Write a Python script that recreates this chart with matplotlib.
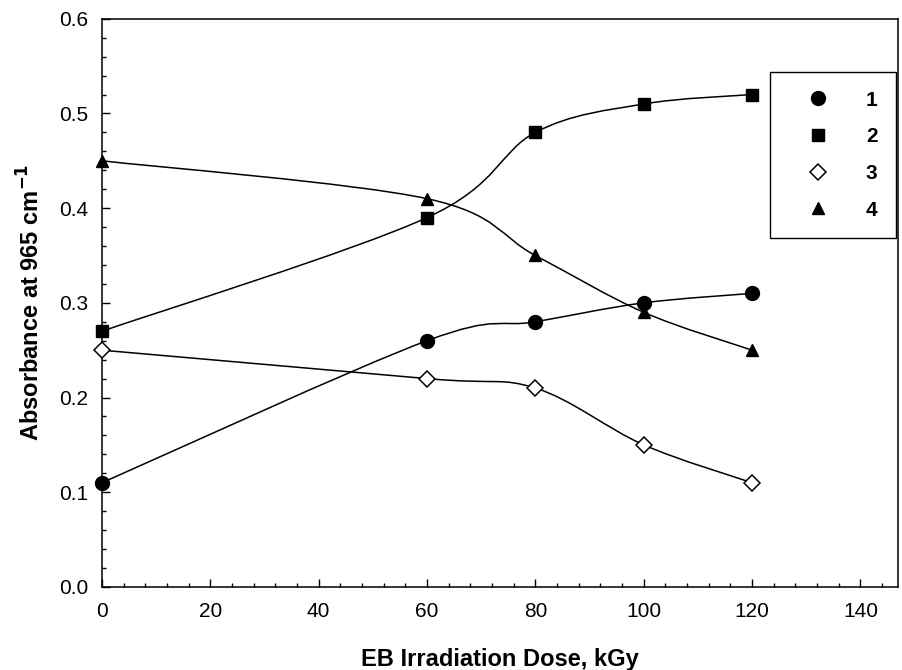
import matplotlib
matplotlib.use("Agg")
import matplotlib.pyplot as plt
import numpy as np
from matplotlib.lines import Line2D
from matplotlib.patches import PathPatch
from matplotlib.path import Path
from matplotlib.ticker import MultipleLocator

plt.rcParams['font.family'] = ['Liberation Sans', 'DejaVu Sans']

# ------------------------------------
# Data
# ------------------------------------
dose = [0, 60, 80, 100, 120]
series_1 = [0.11, 0.26, 0.28, 0.30, 0.31]
series_2 = [0.27, 0.39, 0.48, 0.51, 0.52]
series_3 = [0.25, 0.22, 0.21, 0.15, 0.11]
series_4 = [0.45, 0.41, 0.35, 0.29, 0.25]
labels = ["1", "2", "3", "4"]


def smooth_path(x, y):
    """Catmull-Rom through the points, as cubic Bezier segments."""
    pts = np.column_stack([x, y]).astype(float)
    ext = np.vstack([pts[0], pts, pts[-1]])
    verts = [pts[0]]
    codes = [Path.MOVETO]
    for i in range(len(pts) - 1):
        p0, p1, p2, p3 = ext[i], ext[i + 1], ext[i + 2], ext[i + 3]
        verts += [p1 + (p2 - p0) / 6.0, p2 - (p3 - p1) / 6.0, p2]
        codes += [Path.CURVE4] * 3
    return Path(verts, codes)


fig = plt.figure(figsize=(9.02, 6.70), dpi=100)
ax = fig.add_axes([0.113, 0.124, 0.883, 0.848])

styles = [
    dict(marker="o", ms=10, mfc="black", mec="black"),
    dict(marker="s", ms=8, mfc="black", mec="black"),
    dict(marker="D", ms=8, mfc="white", mec="black", mew=1.1),
    dict(marker="^", ms=9, mfc="black", mec="black"),
]
handles = []
for ys, st in zip([series_1, series_2, series_3, series_4], styles):
    ax.add_patch(PathPatch(smooth_path(dose, ys), fill=False, ec="black",
                           lw=1.1, zorder=2))
    ax.plot(dose, ys, ls="none", zorder=3, clip_on=False, **st)
    handles.append(Line2D([], [], ls="none", **st))

ax.set_xlim(0, 147)
ax.set_ylim(0, 0.6)
ax.xaxis.set_major_locator(MultipleLocator(20))
ax.xaxis.set_minor_locator(MultipleLocator(4))
ax.yaxis.set_major_locator(MultipleLocator(0.1))
ax.yaxis.set_minor_locator(MultipleLocator(0.02))
ax.xaxis.set_major_formatter(plt.FuncFormatter(lambda v, p: f"{v:.0f}"))
ax.yaxis.set_major_formatter(plt.FuncFormatter(lambda v, p: f"{v:.1f}"))
ax.tick_params(which="both", direction="in", top=False, right=False,
               labelsize=15, width=1.0)
ax.tick_params(which="major", length=6)
ax.tick_params(which="minor", length=3)
ax.tick_params(axis="y", pad=10)
ax.tick_params(axis="x", pad=11)
for s in ax.spines.values():
    s.set_linewidth(1.1)

ax.set_xlabel("EB Irradiation Dose, kGy", fontsize=17, fontweight="bold",
              labelpad=19)
ax.set_ylabel(r"Absorbance at 965 cm$^{\mathbf{-1}}$", fontsize=17,
              fontweight="bold", labelpad=10)

leg = ax.legend(handles, labels, loc="upper left",
                bbox_to_anchor=(0.839, 0.9067), borderaxespad=0,
                frameon=True, fancybox=False,
                edgecolor="black", framealpha=1, borderpad=0.9,
                handlelength=2.8, handletextpad=0.9, labelspacing=0.85,
                prop=dict(size=15, weight="bold"))
leg.get_frame().set_linewidth(1.0)

fig.savefig("out.png", dpi=100)
